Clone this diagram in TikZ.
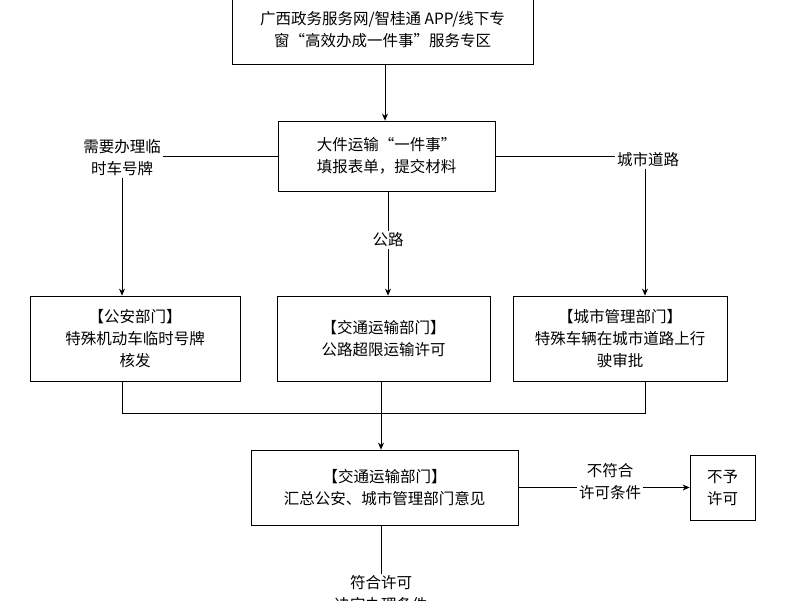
\documentclass[tikz,border=0pt]{standalone}
\usepackage{fontspec}
\setmainfont{Noto Sans CJK SC}
\usetikzlibrary{arrows.meta}
\begin{document}
\begin{tikzpicture}[x=1pt,y=-1pt,font=\fontsize{15.5}{22}\selectfont,
  box/.style={draw,thick,align=center,inner sep=0pt},
  lab/.style={align=center,inner sep=2pt},
  ar/.style={-{Stealth[length=7pt,width=6pt]},thick},
  ln/.style={thick}]
\useasboundingbox (0,0) rectangle (800,600);
\node[box,minimum width=301,minimum height=68] (b1) at (382.5,30) {广西政务服务网/智桂通 APP/线下专\\窗“高效办成一件事”服务专区};
\node[box,minimum width=217,minimum height=70] (b2) at (386.5,156) {大件运输“一件事”\\填报表单，提交材料};
\node[lab] (l1) at (122,158) {需要办理临\\时车号牌};
\node[lab] (l2) at (648,160) {城市道路};
\node[lab] (l3) at (388,240) {公路};
\node[box,minimum width=210,minimum height=85] (a) at (135,338.5) {【公安部门】\\特殊机动车临时号牌\\核发};
\node[box,minimum width=213,minimum height=85] (b) at (383.5,338.5) {【交通运输部门】\\公路超限运输许可};
\node[box,minimum width=214,minimum height=85] (c) at (620,338.5) {【城市管理部门】\\特殊车辆在城市道路上行\\驶审批};
\node[box,minimum width=267,minimum height=75] (d) at (384.5,487.5) {【交通运输部门】\\汇总公安、城市管理部门意见};
\node[lab] (l4) at (610,482) {不符合\\许可条件};
\node[box,minimum width=65,minimum height=65] (e) at (722.5,487.5) {不予\\许可};
\node[lab] (l5) at (381,594) {符合许可\\决定办理条件};
\coordinate (j) at (381,413);
\coordinate (ja) at (122,413);
\coordinate (jc) at (645,413);
\coordinate (t) at (385,0);
\draw[ar] (b1.south -| t) -- (b2.north -| t);
\draw[ln] (b2.west) -- (l1.east |- b2.west);
\draw[ar] (l1.south -| 122,0) -- (a.north -| 122,0);
\draw[ln] (b2.east) -- (l2.west |- b2.east);
\draw[ar] (l2.south -| 645,0) -- (c.north -| 645,0);
\draw[ln] (b2.south -| l3) -- (l3.north);
\draw[ar] (l3.south) -- (b.north -| l3);
\draw[ln] (a.south -| ja) -- (ja) -- (jc) -- (c.south -| jc);
\draw[ln] (b.south -| j) -- (j);
\draw[ar] (j) -- (d.north -| j);
\draw[ln] (d.east) -- (l4.west |- d.east);
\draw[ar] (l4.east |- e.west) -- (e.west);
\draw[ln] (d.south -| l5) -- (l5.north);
\end{tikzpicture}
\end{document}
